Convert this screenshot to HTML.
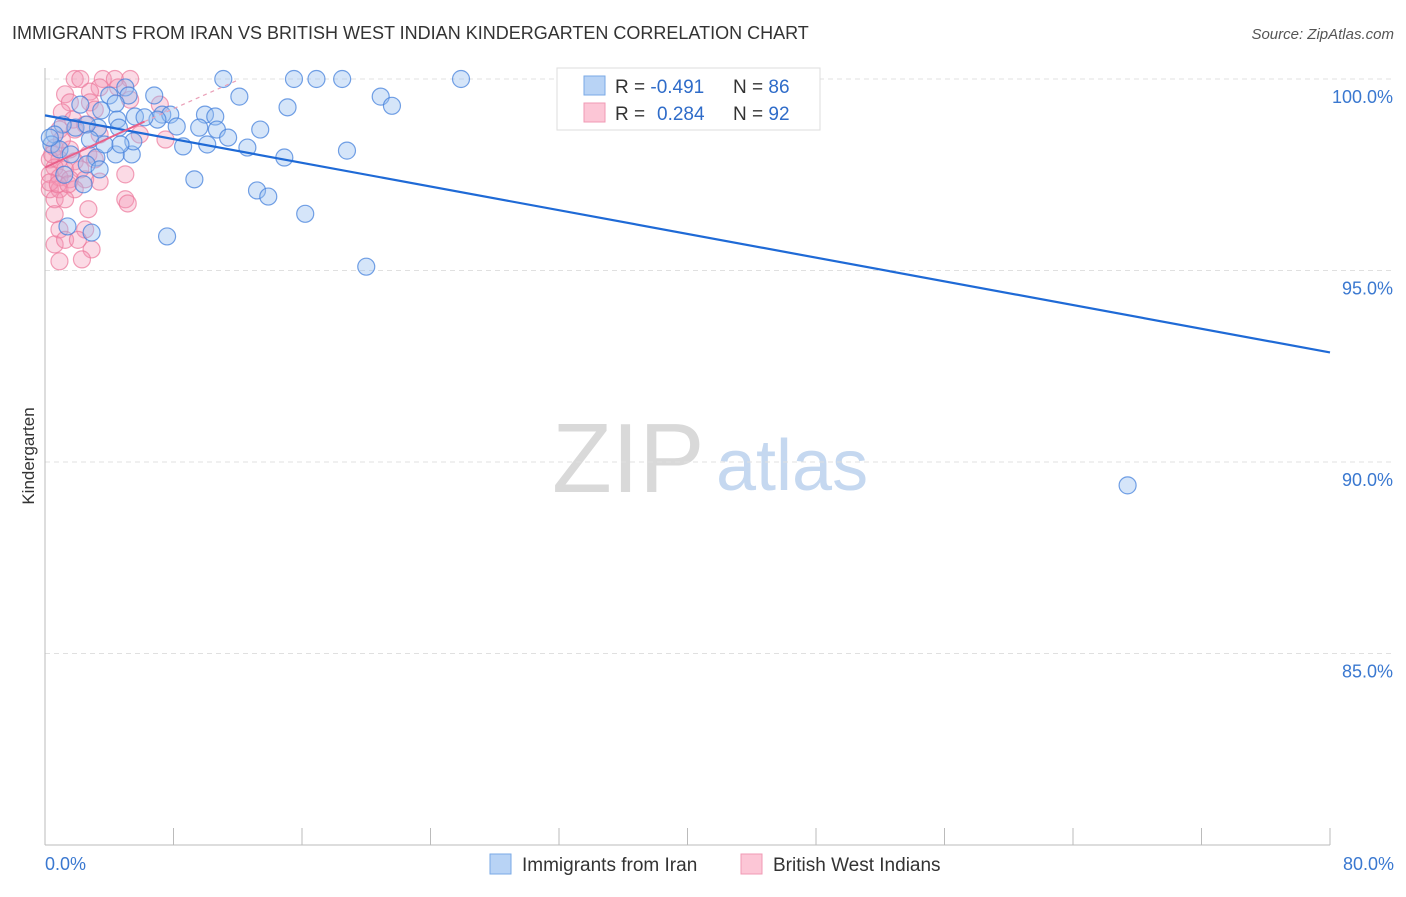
<!DOCTYPE html>
<html><head><meta charset="utf-8">
<style>
body{margin:0;background:#fff;font-family:"Liberation Sans",sans-serif;}
svg text{font-family:"Liberation Sans",sans-serif;}
</style></head>
<body>
<svg id="chart" width="1406" height="892" xmlns="http://www.w3.org/2000/svg">
<text x="12" y="39" font-size="18" fill="#333">IMMIGRANTS FROM IRAN VS BRITISH WEST INDIAN KINDERGARTEN CORRELATION CHART</text>
<text x="1394" y="39" font-size="15" fill="#555" text-anchor="end" font-style="italic">Source: ZipAtlas.com</text>
<g>
<text x="552" y="492" font-size="98" fill="#d9d9d9" font-family="Liberation Serif, serif">ZIP</text>
<text x="716" y="490" font-size="72" fill="#c5d8f0">atlas</text>
</g>
<g id="grid"></g><g id="axes"></g><g id="pink"></g><g id="blue"></g><g id="trends"></g>
<text transform="translate(34,456) rotate(-90)" font-size="17" fill="#333" text-anchor="middle">Kindergarten</text>
<g>
<rect x="557" y="68" width="263" height="62" fill="#fff" stroke="#ddd"/>
<rect x="584" y="76" width="21" height="19" fill="#b8d3f5" stroke="#7aa9e6"/>
<rect x="584" y="103" width="21" height="19" fill="#fcc6d6" stroke="#f09ab4"/>
<text x="615" y="93" font-size="19" fill="#333">R = <tspan fill="#2f6cc9">-0.491</tspan><tspan x="733">N = </tspan><tspan fill="#2f6cc9">86</tspan></text>
<text x="615" y="120" font-size="19" fill="#333">R = <tspan x="657" fill="#2f6cc9">0.284</tspan><tspan x="733">N = </tspan><tspan fill="#2f6cc9">92</tspan></text>
</g>
<g>
<rect x="490" y="854" width="21" height="20" fill="#b8d3f5" stroke="#7aa9e6"/>
<text x="522" y="871" font-size="19" fill="#333">Immigrants from Iran</text>
<text x="773" y="871" font-size="19" fill="#333">British West Indians</text>
<rect x="741" y="854" width="21" height="20" fill="#fcc6d6" stroke="#f09ab4"/>
</g>
</svg>
<script>
const yTicks=[100,95,90,85];
const yTickLabels=["100.0%","95.0%","90.0%","85.0%"];
const xTickLabels=["0.0%","80.0%"];
const blueX=[11.1,15.5,16.9,18.5,25.9,12.1,20.9,21.6,6.8,15.1,9.96,10.6,5.0,5.2,4.0,4.4,7.3,7.8,7.0,5.6,6.2,3.5,4.5,8.2,9.6,10.7,13.4,11.4,8.6,10.1,12.6,18.8,14.9,5.4,4.4,3.2,5.5,4.6,3.3,1.9,2.6,1.1,0.6,0.4,0.9,1.6,2.6,2.4,9.3,13.2,13.9,16.2,7.6,2.9,1.4,20.0,67.4,2.2,2.8,0.3,3.7,1.2,3.4,4.7];
const blueY=[100,100,100,100,100,99.54,99.54,99.3,99.57,99.26,99.07,99.02,99.78,99.57,99.57,99.36,99.07,99.07,98.94,99.02,99.0,99.18,98.94,98.76,98.73,98.68,98.68,98.47,98.24,98.29,98.21,98.13,97.95,98.03,98.03,97.95,98.37,98.73,98.73,98.73,98.81,98.81,98.55,98.29,98.16,98.03,97.77,97.25,97.38,97.09,96.93,96.48,95.89,95.99,96.15,95.1,89.39,99.33,98.42,98.47,98.29,97.5,97.64,98.29];
const pinkX=[1.85,2.2,3.6,4.35,5.3,3.4,4.55,2.8,1.25,1.55,2.8,5.3,7.15,1.05,3.1,1.75,2.5,0.9,1.85,3.4,5.9,7.5,0.6,1.55,2.7,0.3,0.9,1.85,3.1,0.6,1.25,2.2,0.3,0.9,1.55,2.5,5.0,3.4,0.3,0.9,1.85,0.6,1.25,5.0,5.15,0.6,2.7,0.9,2.5,0.6,1.25,2.9,0.9,2.3,2.05,0.3,0.8,1.45,0.45,1.05];
const pinkY=[100,100,100,100,100,99.78,99.78,99.67,99.6,99.39,99.39,99.46,99.33,99.13,99.2,98.94,98.81,98.68,98.68,98.55,98.55,98.42,98.21,98.16,98.03,97.9,97.9,97.85,97.9,97.69,97.64,97.64,97.51,97.43,97.38,97.38,97.51,97.32,97.12,97.12,97.12,96.86,96.86,96.86,96.75,96.47,96.6,96.07,96.07,95.68,95.8,95.55,95.24,95.29,95.8,97.3,97.25,97.25,98.03,98.42];
const blueTrend=[[0,99.05],[80,92.86]];
const pinkTrendSolid=[[0,97.69],[6.2,98.89]];
const pinkTrendDash=[[6.2,98.89],[12,99.97]];

const NS="http://www.w3.org/2000/svg";
const X=v=>45+v/80*1285;
const Y=v=>845-(v-80)*38.3;
function mk(tag,attrs,parent){const e=document.createElementNS(NS,tag);for(const k in attrs)e.setAttribute(k,attrs[k]);document.getElementById(parent).appendChild(e);return e;}
yTicks.forEach((t,i)=>{
 const l=mk('line',{x1:45,x2:1394,y1:Y(t),y2:Y(t),stroke:'#e0e0e0','stroke-dasharray':'5,4'},'grid');
 
 
 const tx=mk('text',{x:1393,y:Y(t)+24,'font-size':18,fill:'#3a78d0','text-anchor':'end'},'axes');
 tx.textContent=yTickLabels[i];
 
 
});
const ax=mk('line',{x1:45,x2:1330,y1:845,y2:845,stroke:'#bbb'},'axes');


const ay=mk('line',{x1:45,x2:45,y1:68,y2:845,stroke:'#bbb'},'axes');


for(let v=0;v<=80;v+=8){
 const tk=mk('line',{x1:X(v),x2:X(v),y1:828,y2:845,stroke:'#bbb'},'axes');
 
 
}
[[0,'start'],[80,'end']].forEach((p,i)=>{
 const tx=mk('text',{x:i?1394:45,y:870,'font-size':18,fill:'#3a78d0','text-anchor':p[1]},'axes');
 tx.textContent=xTickLabels[i];
 
 
});
pinkX.forEach((x,i)=>{
 const c=mk('circle',{cx:X(x),cy:Y(pinkY[i]),r:8.5,fill:'rgba(244,150,180,0.35)',stroke:'rgba(236,120,155,0.7)','stroke-width':1.2},'pink');
 
 
});
blueX.forEach((x,i)=>{
 const c=mk('circle',{cx:X(x),cy:Y(blueY[i]),r:8.5,fill:'rgba(150,190,240,0.4)',stroke:'rgba(70,130,220,0.75)','stroke-width':1.2},'blue');
 
 
});
const bt=mk('line',{x1:X(blueTrend[0][0]),y1:Y(blueTrend[0][1]),x2:X(blueTrend[1][0]),y2:Y(blueTrend[1][1]),stroke:'#1f6ad6','stroke-width':2.2},'trends');


const ps=mk('line',{x1:X(pinkTrendSolid[0][0]),y1:Y(pinkTrendSolid[0][1]),x2:X(pinkTrendSolid[1][0]),y2:Y(pinkTrendSolid[1][1]),stroke:'#e8608a','stroke-width':2},'trends');


const pd=mk('line',{x1:X(pinkTrendDash[0][0]),y1:Y(pinkTrendDash[0][1]),x2:X(pinkTrendDash[1][0]),y2:Y(pinkTrendDash[1][1]),stroke:'#eaa0b8','stroke-width':1.2,'stroke-dasharray':'4,4'},'trends');


</script>
</body></html>
